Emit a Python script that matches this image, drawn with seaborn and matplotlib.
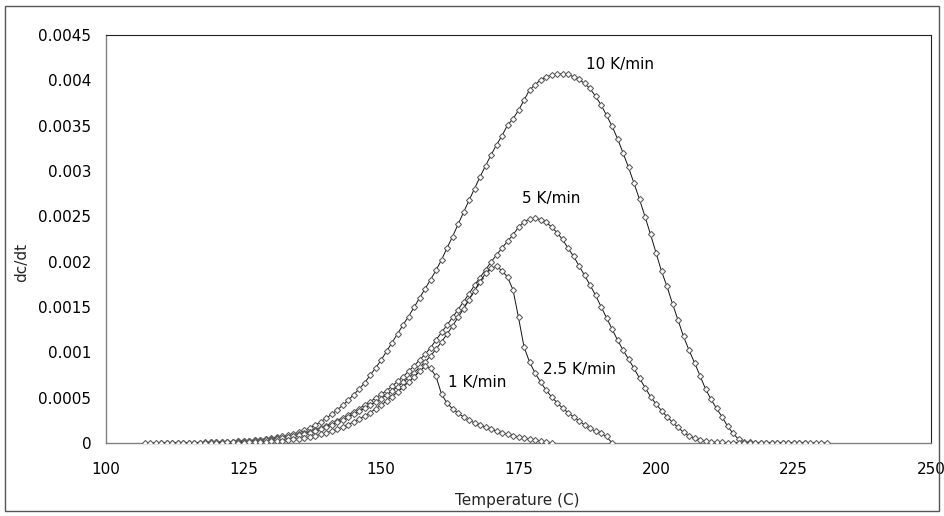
import numpy as np
import pandas as pd
import matplotlib
matplotlib.use("Agg")
import matplotlib.pyplot as plt
import seaborn as sns
from matplotlib.patches import Rectangle
from matplotlib.ticker import FuncFormatter

# ---------------- data ----------------
# temperature grids (deg C, 1 degree sampling)
T_10 = list(range(107, 232))
T_5 = list(range(110, 228))
T_25 = list(range(118, 193))
T_1 = list(range(124, 182))

r_10 = [
    0.0, 0.0, 0.000001, 0.000001, 0.000001, 0.000001, 0.000002, 0.000002, 0.000003, 0.000003,  # 107-116
    0.000004, 0.000005, 0.000006, 0.000008, 0.000010, 0.000012, 0.000015, 0.000018, 0.000022, 0.000026,  # 117-126
    0.000031, 0.000037, 0.000044, 0.000052, 0.000061, 0.000072, 0.000085, 0.000100, 0.000118, 0.000138,  # 127-136
    0.000165, 0.000196, 0.000232, 0.000272, 0.000315, 0.000362, 0.000415, 0.000470, 0.000530, 0.000594,  # 137-146
    0.000662, 0.000745, 0.000826, 0.000912, 0.001010, 0.001106, 0.001205, 0.001300, 0.001395, 0.001495,  # 147-156
    0.001598, 0.001700, 0.001800, 0.001905, 0.002020, 0.002150, 0.002276, 0.002410, 0.002543, 0.002676,  # 157-166
    0.002805, 0.002935, 0.003057, 0.003176, 0.003288, 0.003390, 0.003505, 0.003575, 0.003670, 0.003780,  # 167-176
    0.003893, 0.003950, 0.004005, 0.004035, 0.004060, 0.004071, 0.004072, 0.004066, 0.004040, 0.004010,  # 177-186
    0.003966, 0.003910, 0.003825, 0.003730, 0.003615, 0.003495, 0.003358, 0.003200, 0.003040, 0.002865,  # 187-196
    0.002688, 0.002497, 0.002302, 0.002099, 0.001894, 0.001727, 0.001535, 0.001357, 0.001175, 0.001025,  # 197-206
    0.000886, 0.000742, 0.000597, 0.000482, 0.000382, 0.000290, 0.000187, 0.000107, 0.000041, 0.000012,  # 207-216
    0.000007, 0.000005, 0.000004, 0.000003, 0.000003, 0.000002, 0.000002, 0.000002, 0.000001, 0.000001,  # 217-226
    0.000001, 0.000001, 0.000001, 0.0, 0.0,  # 227-231
]

r_5 = [
    0.000001, 0.000001, 0.000001, 0.000002, 0.000002, 0.000003, 0.000004, 0.000005, 0.000006, 0.000007,  # 110-119
    0.000008, 0.000010, 0.000012, 0.000014, 0.000017, 0.000020, 0.000024, 0.000028, 0.000033, 0.000039,  # 120-129
    0.000045, 0.000052, 0.000060, 0.000070, 0.000081, 0.000094, 0.000109, 0.000126, 0.000146, 0.000168,  # 130-139
    0.000193, 0.000220, 0.000248, 0.000278, 0.000310, 0.000344, 0.000380, 0.000417, 0.000455, 0.000495,  # 140-149
    0.000535, 0.000578, 0.000625, 0.000680, 0.000730, 0.000790, 0.000850, 0.000915, 0.000978, 0.001050,  # 150-159
    0.001135, 0.001220, 0.001300, 0.001385, 0.001470, 0.001558, 0.001645, 0.001740, 0.001825, 0.001910,  # 160-169
    0.001995, 0.002075, 0.002150, 0.002225, 0.002295, 0.002380, 0.002440, 0.002470, 0.002480, 0.002465,  # 170-179
    0.002435, 0.002385, 0.002320, 0.002245, 0.002150, 0.002060, 0.001955, 0.001850, 0.001743, 0.001630,  # 180-189
    0.001505, 0.001382, 0.001258, 0.001136, 0.001026, 0.000926, 0.000823, 0.000715, 0.000612, 0.000512,  # 190-199
    0.000430, 0.000357, 0.000290, 0.000228, 0.000173, 0.000118, 0.000077, 0.000050, 0.000030, 0.000018,  # 200-209
    0.000012, 0.000008, 0.000006, 0.000005, 0.000004, 0.000003, 0.000003, 0.000002, 0.000002, 0.000002,  # 210-219
    0.000001, 0.000001, 0.000001, 0.000001, 0.000001, 0.0, 0.0, 0.0,  # 220-227
]

r_25 = [
    0.000002, 0.000003, 0.000004, 0.000005, 0.000007, 0.000009, 0.000011, 0.000014, 0.000017, 0.000021,  # 118-127
    0.000026, 0.000031, 0.000037, 0.000044, 0.000052, 0.000061, 0.000072, 0.000084, 0.000098, 0.000114,  # 128-137
    0.000132, 0.000152, 0.000175, 0.000200, 0.000227, 0.000256, 0.000287, 0.000320, 0.000350, 0.000382,  # 138-147
    0.000416, 0.000452, 0.000490, 0.000530, 0.000573, 0.000620, 0.000668, 0.000720, 0.000775, 0.000833,  # 148-157
    0.000893, 0.000960, 0.001035, 0.001115, 0.001200, 0.001290, 0.001385, 0.001480, 0.001580, 0.001680,  # 158-167
    0.001780, 0.001870, 0.001930, 0.001948, 0.001900, 0.001830, 0.001690, 0.001385, 0.001060, 0.000895,  # 168-177
    0.000772, 0.000675, 0.000584, 0.000510, 0.000445, 0.000385, 0.000334, 0.000290, 0.000245, 0.000200,  # 178-187
    0.000163, 0.000128, 0.000105, 0.000072, 0.0,  # 188-192
]

r_1 = [
    0.000004, 0.000005, 0.000007, 0.000009, 0.000011, 0.000014, 0.000017, 0.000021, 0.000026, 0.000032,  # 124-133
    0.000039, 0.000047, 0.000057, 0.000068, 0.000081, 0.000096, 0.000113, 0.000132, 0.000153, 0.000177,  # 134-143
    0.000203, 0.000232, 0.000264, 0.000298, 0.000335, 0.000375, 0.000418, 0.000463, 0.000511, 0.000562,  # 144-153
    0.000616, 0.000672, 0.000730, 0.000790, 0.000845, 0.000822, 0.000735, 0.000540, 0.000440, 0.000378,  # 154-163
    0.000330, 0.000288, 0.000252, 0.000222, 0.000196, 0.000171, 0.000150, 0.000131, 0.000113, 0.000096,  # 164-173
    0.000081, 0.000069, 0.000058, 0.000045, 0.000034, 0.000023, 0.000014, 0.000003,  # 174-181
]

series_names = ["10 K/min", "5 K/min", "2.5 K/min", "1 K/min"]
series_T = [T_10, T_5, T_25, T_1]
series_r = [r_10, r_5, r_25, r_1]

x_ticks = [100, 125, 150, 175, 200, 225, 250]
y_ticks = [0, 0.0005, 0.001, 0.0015, 0.002, 0.0025, 0.003, 0.0035, 0.004, 0.0045]

# curve labels (text, x, y in data coordinates)
label_text = ["10 K/min", "5 K/min", "2.5 K/min", "1 K/min"]
label_x = [187.2, 175.7, 179.4, 162.1]
label_y = [0.00417, 0.00270, 0.000815, 0.000672]

# ---------------- figure ----------------
sns.set_style("white")
plt.rcParams["font.family"] = ["DejaVu Sans"]
plt.rcParams["font.size"] = 11

fig = plt.figure(figsize=(9.45, 5.16), dpi=100)
W, H = 945, 516
ax = fig.add_axes([106 / W, 1 - 443 / H, (931 - 106) / W, (443 - 35) / H])

for name, T, r in zip(series_names, series_T, series_r):
    df = pd.DataFrame({"T": T, "r": r})
    sns.lineplot(data=df, x="T", y="r", ax=ax, color="#111111", linewidth=0.7,
                 marker="D", markersize=3.1, markerfacecolor="white",
                 markeredgecolor="#5a5a5a", markeredgewidth=0.75,
                 estimator=None, sort=False, legend=False, zorder=3)

for t, x, y in zip(label_text, label_x, label_y):
    ax.text(x, y, t, ha="left", va="center", fontsize=11, color="black")

ax.set_xlim(100, 250)
ax.set_ylim(0, 0.0045)
ax.set_xticks(x_ticks)
ax.set_yticks(y_ticks)
ax.yaxis.set_major_formatter(FuncFormatter(lambda v, p: f"{v:g}"))
ax.set_xlabel("")
ax.set_ylabel("")
ax.tick_params(axis="both", direction="out", length=4.5, width=0.8,
               color="#555555", labelsize=11, labelcolor="black")
ax.tick_params(axis="x", pad=9)
ax.tick_params(axis="y", pad=6)

for side in ["left", "bottom"]:
    ax.spines[side].set_color("#808080")
    ax.spines[side].set_linewidth(1.0)
for side in ["top", "right"]:
    ax.spines[side].set_color("#222222")
    ax.spines[side].set_linewidth(0.8)
    ax.spines[side].set_visible(True)

fig.text(517 / W, 1 - 500 / H, "Temperature (C)", ha="center", va="center", fontsize=11)
fig.text(22 / W, 1 - 262 / H, "dc/dt", ha="center", va="center", rotation=90, fontsize=11)

fig.patches.append(Rectangle((5.5 / W, 5.5 / H), (939.5 - 5.5) / W, (510.5 - 5.5) / H,
                             transform=fig.transFigure, fill=False,
                             edgecolor="#555555", linewidth=1.0))

fig.savefig("out.png", dpi=100)
